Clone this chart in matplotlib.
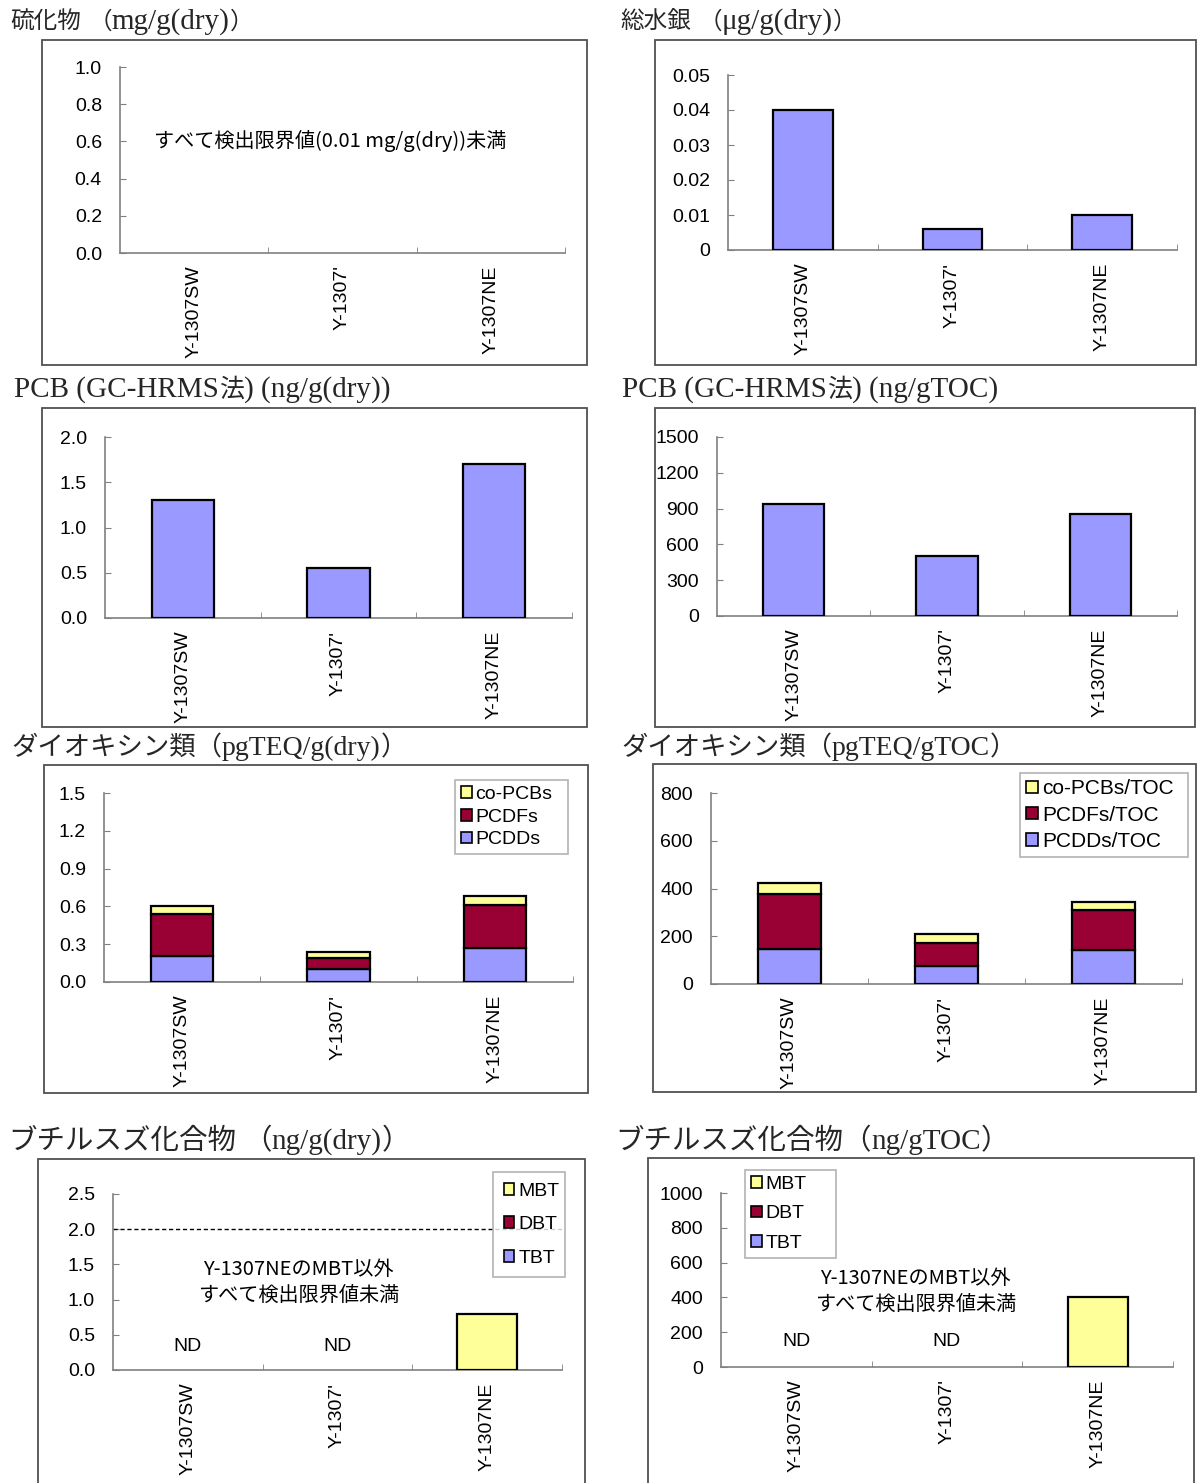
import matplotlib
matplotlib.use('Agg')
from matplotlib import pyplot as plt
from matplotlib.patches import Rectangle, Patch
from matplotlib.ticker import FuncFormatter
import numpy as np

W, H = 1198, 1483
fig = plt.figure(figsize=(W / 100, H / 100), dpi=100)

ND = np.nan

# sample stations
stations = ["Y-1307SW", "Y-1307'", "Y-1307NE"]

# single-series data
mercury = [0.040, 0.006, 0.010]          # ug/g(dry)
pcb_dry = [1.30, 0.55, 1.70]             # ng/g(dry)
pcb_toc = [935, 500, 855]                # ng/gTOC

# dioxins, stacked
pcdd_dry = [0.21, 0.10, 0.27]
pcdf_dry = [0.33, 0.09, 0.34]
copcb_dry = [0.06, 0.05, 0.07]
pcdd_toc = [148, 77, 141]
pcdf_toc = [230, 95, 170]
copcb_toc = [45, 39, 34]

# butyltins (only MBT at NE detected)
mbt_dry = [ND, ND, 0.8]
mbt_toc = [ND, ND, 400]

BLUE = '#9999FF'
RED = '#990033'
YELLOW = '#FFFF99'

title_font = ['Liberation Serif', 'Noto Sans CJK JP']
sans_font = ['Liberation Sans', 'Noto Sans CJK JP']
jp_font = ['Noto Sans CJK JP', 'DejaVu Sans']
TICK_SIZE = 14

renderer = fig.canvas.get_renderer()


def fx(x):
    return x / W


def fy(y):
    return 1 - y / H


def frame(x0, y0, x1, y1):
    fig.patches.append(Rectangle((fx(x0), fy(y1)), fx(x1 - x0), (y1 - y0) / H,
                                 transform=fig.transFigure, fill=False,
                                 edgecolor='#505050', lw=1.3))


def title(x, y, s, cjk=17, latin_size=21):
    # latin runs and kana/kanji runs get their own sizes
    runs = []
    for ch in s:
        latin = ord(ch) < 0x2000
        if runs and runs[-1][1] == latin:
            runs[-1][0] += ch
        else:
            runs.append([ch, latin])
    px = x
    for text, latin in runs:
        t = fig.text(fx(px), fy(y), text, family=title_font,
                     fontsize=latin_size if latin else cjk, va='baseline',
                     color='#262626')
        px += t.get_window_extent(renderer).width


def make_axes(x0, y0, x1, y1, ymax, step, fmt):
    ax = fig.add_axes([fx(x0), fy(y1), fx(x1 - x0), (y1 - y0) / H])
    ax.set_xlim(-0.5, 2.5)
    ax.set_ylim(0, ymax)
    ax.set_yticks(np.arange(0, ymax + step / 2, step))
    ax.yaxis.set_major_formatter(FuncFormatter(fmt))
    ax.set_xticks([0, 1, 2])
    ax.set_xticklabels(stations, rotation=90, family=sans_font, fontsize=TICK_SIZE)
    ax.set_xticks([0.5, 1.5, 2.5], minor=True)
    ax.tick_params(axis='x', which='major', length=0, pad=9)
    ax.tick_params(axis='x', which='minor', direction='in', length=4, color='#808080')
    ax.tick_params(axis='y', direction='in', length=4, color='#808080', pad=13,
                   labelsize=TICK_SIZE)
    for lab in ax.get_yticklabels():
        lab.set_family(sans_font)
    for side in ['top', 'right']:
        ax.spines[side].set_visible(False)
    for side in ['left', 'bottom']:
        ax.spines[side].set_color('#808080')
        ax.spines[side].set_linewidth(1.2)
    ax.patch.set_alpha(0)
    return ax


def bars(ax, vals, color, bottom=None):
    ax.bar(range(3), vals, width=0.4, bottom=bottom, color=color,
           edgecolor='black', linewidth=1.6, zorder=3)


def legend(ax, labels, colors, x0, y0, x1, spacing, size=14, pad=0.3):
    handles = [Patch(facecolor=c, edgecolor='black', linewidth=1.2) for c in colors]
    leg = ax.legend(handles, labels, loc='upper left', mode='expand',
                    bbox_to_anchor=(fx(x0), fy(y0) - 0.01, fx(x1 - x0), 0.01),
                    bbox_transform=fig.transFigure,
                    frameon=True, fancybox=False, handlelength=0.55, handleheight=0.55,
                    handletextpad=0.2, labelspacing=spacing, borderpad=pad,
                    borderaxespad=0, prop={'family': sans_font, 'size': size})
    leg.get_frame().set_edgecolor('#a0a0a0')
    leg.get_frame().set_linewidth(1.2)


def note(ax, x, y, s):
    ax.text(x, y, s, ha='center', va='center', family=jp_font, fontsize=14.5,
            linespacing=1.3)


f1 = lambda v, p: f'{v:.1f}'
f0 = lambda v, p: f'{v:.0f}'
fhg = lambda v, p: '0' if v == 0 else f'{v:.2f}'

# Row 1: sulfide and total mercury
frame(42, 40, 587, 365)
frame(655, 40, 1196, 365)
title(10, 29, '硫化物 （mg/g(dry)）')
title(620, 29, '総水銀 （μg/g(dry)）')
ax = make_axes(120, 67, 565, 253, 1.0, 0.2, f1)
note(ax, 0.92, 0.6, 'すべて検出限界値(0.01 mg/g(dry))未満')
ax = make_axes(728, 75, 1177, 250, 0.05, 0.01, fhg)
bars(ax, mercury, BLUE)

# Row 2: PCB
frame(42, 408, 587, 727)
frame(655, 408, 1195, 727)
title(14, 397, 'PCB (GC-HRMS法) (ng/g(dry))', cjk=18)
title(622, 397, 'PCB (GC-HRMS法) (ng/gTOC)', cjk=18)
ax = make_axes(105, 437, 572, 618, 2.0, 0.5, f1)
bars(ax, pcb_dry, BLUE)
ax = make_axes(717, 437, 1177, 616, 1500, 300, f0)
bars(ax, pcb_toc, BLUE)

# Row 3: dioxins
frame(44, 765, 588, 1093)
frame(653, 764, 1196, 1092)
title(11, 755, 'ダイオキシン類（pgTEQ/g(dry)）', cjk=19, latin_size=20)
title(621, 755, 'ダイオキシン類（pgTEQ/gTOC）', cjk=19, latin_size=20)
ax = make_axes(104, 793, 573, 982, 1.5, 0.3, f1)
bars(ax, pcdd_dry, BLUE)
bars(ax, pcdf_dry, RED, bottom=pcdd_dry)
bars(ax, copcb_dry, YELLOW, bottom=np.add(pcdd_dry, pcdf_dry))
legend(ax, ['co-PCBs', 'PCDFs', 'PCDDs'], [YELLOW, RED, BLUE], 455, 780, 568, 0.3)
ax = make_axes(711, 793, 1182, 984, 800, 200, f0)
bars(ax, pcdd_toc, BLUE)
bars(ax, pcdf_toc, RED, bottom=pcdd_toc)
bars(ax, copcb_toc, YELLOW, bottom=np.add(pcdd_toc, pcdf_toc))
legend(ax, ['co-PCBs/TOC', 'PCDFs/TOC', 'PCDDs/TOC'], [YELLOW, RED, BLUE],
       1020, 773, 1188, 0.35, 15)

# Row 4: butyltins
frame(38, 1159, 585, 1500)
frame(648, 1158, 1194, 1500)
title(8, 1149, 'ブチルスズ化合物 （ng/g(dry)）', cjk=20.5)
title(615, 1149, 'ブチルスズ化合物（ng/gTOC）', cjk=20.5)
ax = make_axes(113, 1194, 562, 1370, 2.5, 0.5, f1)
bars(ax, mbt_dry, YELLOW)
ax.axhline(2.0, color='black', lw=1, ls=(0, (3, 2)), zorder=2)
note(ax, 0.74, 1.24, 'Y-1307NEのMBT以外\nすべて検出限界値未満')
for i in [0, 1]:
    ax.text(i, 0.33, 'ND', ha='center', va='center', family=sans_font, fontsize=14)
legend(ax, ['MBT', 'DBT', 'TBT'], [YELLOW, RED, BLUE], 493, 1172, 565, 0.85, pad=0.55)
ax = make_axes(721, 1193, 1173, 1367, 1000, 200, f0)
bars(ax, mbt_toc, YELLOW)
note(ax, 0.79, 437, 'Y-1307NEのMBT以外\nすべて検出限界値未満')
for i in [0, 1]:
    ax.text(i, 145, 'ND', ha='center', va='center', family=sans_font, fontsize=14)
legend(ax, ['MBT', 'DBT', 'TBT'], [YELLOW, RED, BLUE], 745, 1170, 836, 0.65)

fig.savefig('out.png', dpi=100)
